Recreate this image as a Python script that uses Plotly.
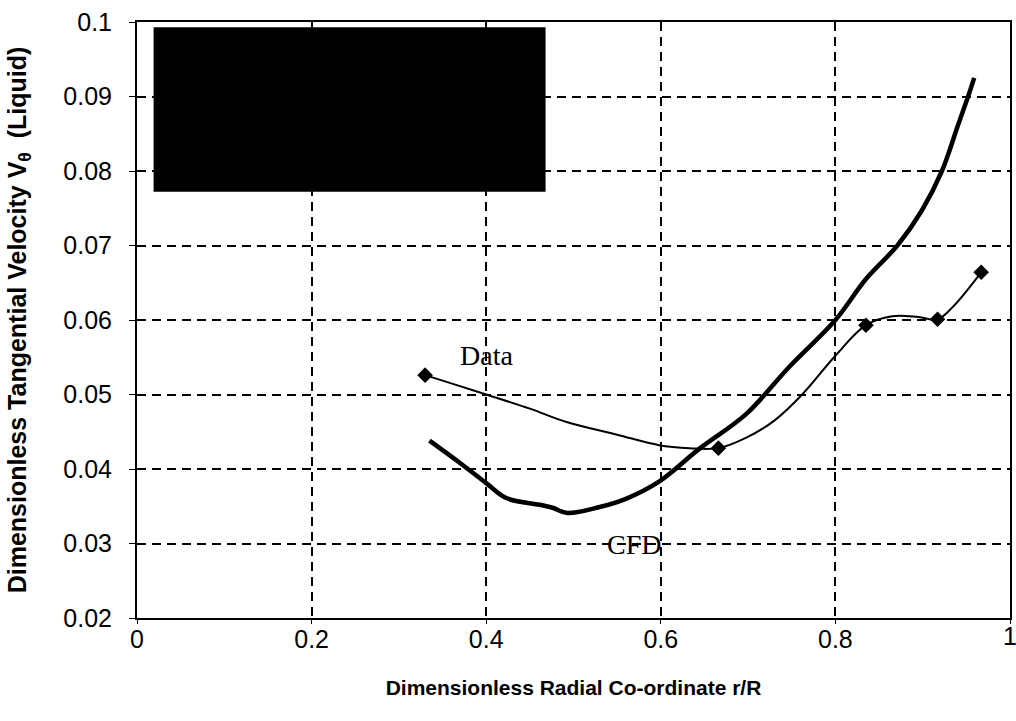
import plotly.graph_objects as go

# Measured data points (diamonds)
data_r = [0.330, 0.666, 0.835, 0.917, 0.967]
data_v = [0.0526, 0.0428, 0.0593, 0.0601, 0.0664]

# Smoothed data curve
data_line_r = [0.330, 0.360, 0.400, 0.450, 0.492, 0.550, 0.598, 0.633, 0.666,
               0.698, 0.730, 0.762, 0.800, 0.835, 0.865, 0.895, 0.917, 0.934, 0.967]
data_line_v = [0.0526, 0.0515, 0.0500, 0.0481, 0.0463, 0.0446, 0.0432, 0.0428, 0.0428,
               0.0442, 0.0465, 0.0500, 0.0552, 0.0593, 0.0605, 0.0604, 0.0601, 0.0617, 0.0664]

# CFD curve
cfd_r = [0.335, 0.370, 0.400, 0.423, 0.461, 0.476, 0.493, 0.530, 0.560, 0.598,
         0.644, 0.698, 0.747, 0.800, 0.835, 0.871, 0.899, 0.922, 0.940, 0.952, 0.959]
cfd_v = [0.0438, 0.0408, 0.0381, 0.0361, 0.0352, 0.0348, 0.0341, 0.0349, 0.0360, 0.0383,
         0.0427, 0.0474, 0.0537, 0.0600, 0.0655, 0.0700, 0.0747, 0.0800, 0.0860, 0.0900, 0.0925]

x_ticks = [0, 0.2, 0.4, 0.6, 0.8, 1]
x_tick_labels = ["0", "0.2", "0.4", "0.6", "0.8", "1"]
y_ticks = [0.02, 0.03, 0.04, 0.05, 0.06, 0.07, 0.08, 0.09, 0.1]
y_tick_labels = ["0.02", "0.03", "0.04", "0.05", "0.06", "0.07", "0.08", "0.09", "0.1"]

tick_font = dict(family="Liberation Sans", size=25, color="black")

fig = go.Figure()
fig.add_trace(go.Scatter(x=cfd_r, y=cfd_v, mode="lines", line=dict(color="black", width=4.5, shape="spline"),
                         showlegend=False, hoverinfo="skip"))
fig.add_trace(go.Scatter(x=data_line_r, y=data_line_v, mode="lines", line=dict(color="black", width=2, shape="spline"),
                         showlegend=False, hoverinfo="skip"))
fig.add_trace(go.Scatter(x=data_r, y=data_v, mode="markers",
                         marker=dict(symbol="diamond", size=12, color="black"), showlegend=False))

# Black inset box (legend area in original)
fig.add_shape(type="rect", xref="x", yref="y", x0=0.019, x1=0.468, y0=0.0772, y1=0.0993,
              fillcolor="black", line=dict(width=0), layer="above")

fig.add_annotation(x=0.40, y=0.0552, text="Data", showarrow=False,
                   font=dict(family="Liberation Serif", size=28, color="black"))
fig.add_annotation(x=0.569, y=0.0298, text="CFD", showarrow=False,
                   font=dict(family="Liberation Serif", size=28, color="black"))

# last x tick label sits at the very edge of the page (partly cut off in the original)
fig.add_annotation(x=x_ticks[-1], xref="x", y=0, yref="paper", yanchor="top", yshift=-2,
                   text=x_tick_labels[-1], showarrow=False, font=tick_font)

grid = dict(showgrid=True, gridcolor="black", gridwidth=1.5, griddash="9px,6px")
fig.update_xaxes(range=[0, 1], tickvals=x_ticks, ticktext=x_tick_labels, ticks="outside", ticklen=4,
                 tickcolor="black", showline=True, linecolor="black", linewidth=2, mirror=True,
                 ticklabelstandoff=-6,
                 tickfont=tick_font,
                 title=dict(text="<b>Dimensionless Radial Co-ordinate r/R</b>", standoff=28,
                            font=dict(family="Liberation Sans", size=21, color="black")),
                 zeroline=False, **grid)
fig.update_yaxes(range=[0.02, 0.1], tickvals=y_ticks, ticktext=y_tick_labels, ticks="outside", ticklen=6,
                 tickcolor="black", showline=True, linecolor="black", linewidth=2, mirror=True,
                 ticklabelstandoff=12,
                 tickfont=tick_font,
                 title=dict(text="<b>Dimensionless Tangential Velocity V<sub>θ</sub>  (Liquid)</b>", standoff=30,
                            font=dict(family="Liberation Sans", size=25, color="black")),
                 zeroline=False, **grid)

fig.update_layout(width=1016, height=721, plot_bgcolor="white", paper_bgcolor="white",
                  margin=dict(l=137, r=4, t=22, b=103))

fig.write_html("out.html")
